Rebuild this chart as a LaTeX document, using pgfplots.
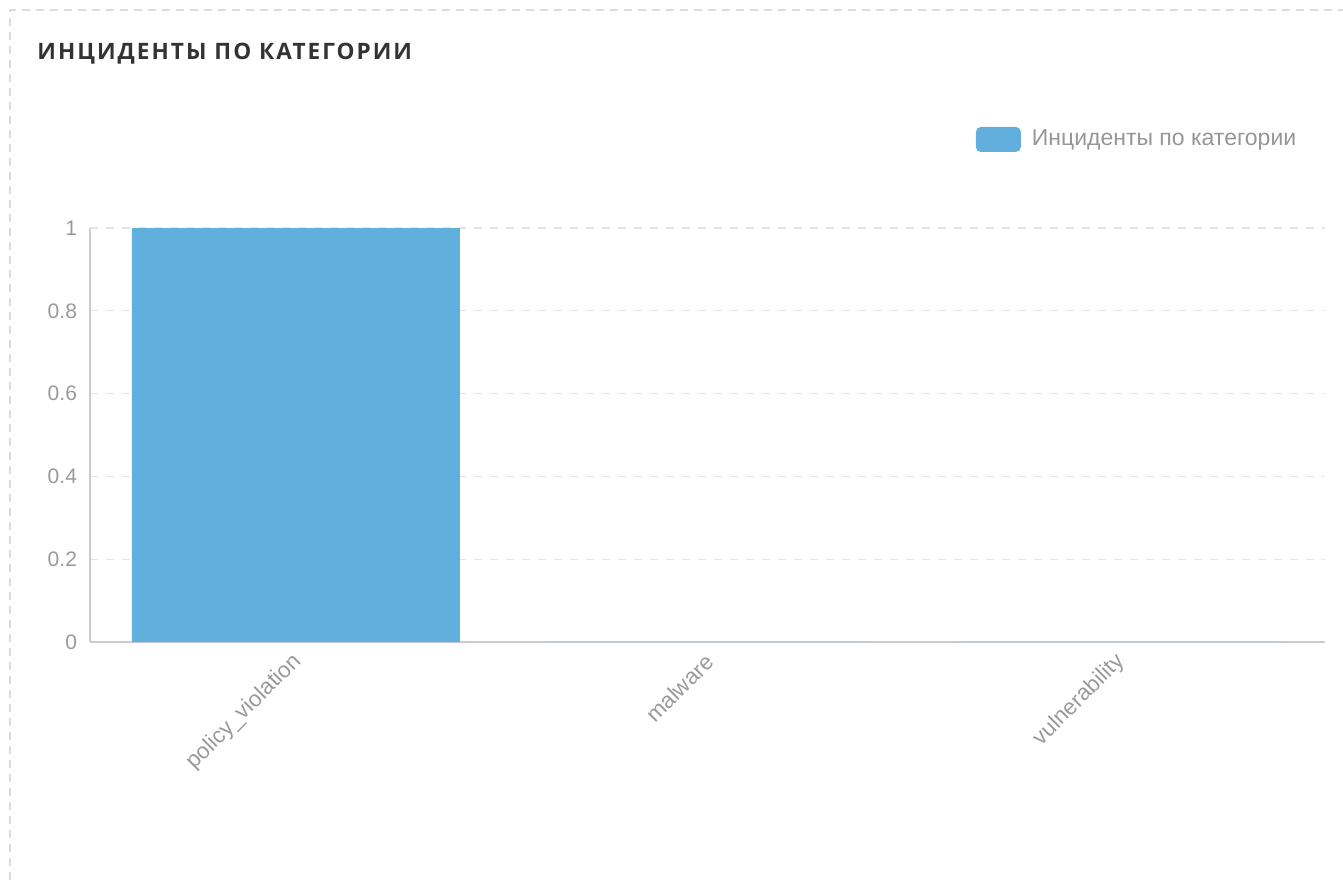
\documentclass[border=0pt]{standalone}
\usepackage{fontspec}
\setmainfont{Liberation Sans}
\newfontfamily\titlefont[LetterSpace=9]{Open Sans}
\usepackage{pgfplots}
\pgfplotsset{compat=1.18}
\definecolor{barblue}{RGB}{98,174,221}
\definecolor{ticktext}{RGB}{153,153,153}
\definecolor{legtext}{RGB}{150,150,150}
\definecolor{axisgray}{RGB}{204,204,204}
\definecolor{gridgray}{RGB}{228,228,228}
\definecolor{bordergray}{RGB}{220,220,220}
\definecolor{titlecol}{RGB}{51,51,51}
\begin{document}
\begin{tikzpicture}
\useasboundingbox (0,0) rectangle (671.5pt,440pt);
% card border (dashed)
\draw[bordergray, line width=0.6pt, dash pattern=on 4pt off 3pt] (5pt,0pt) -- (5pt,435pt) -- (671.5pt,435pt);
% title
\node[anchor=west, inner sep=0pt, text=titlecol] at (18.5pt,413pt) {\titlefont\bfseries\fontsize{11.3pt}{13pt}\selectfont ИНЦИДЕНТЫ ПО КАТЕГОРИИ};
\begin{axis}[
  at={(45pt,119pt)}, anchor=south west,
  scale only axis, width=617.5pt, height=207pt,
  xmin=-0.5, xmax=2.5, ymin=0, ymax=1,
  ybar, bar width=164pt, bar shift=0pt,
  axis x line=bottom, axis y line=left,
  axis line style={-, axisgray, line width=0.8pt},
  xtick=data, xticklabels={policy\_violation, malware, vulnerability},
  ytick={0,0.2,0.4,0.6,0.8,1},
  major tick length=0pt,
  /pgf/number format/assume math mode=true,
  /pgf/number format/fixed,
  ticklabel style={font=\fontsize{10.5pt}{12pt}\selectfont, text=ticktext},
  yticklabel style={xshift=-3pt},
  xticklabel style={font=\fontsize{11.2pt}{13pt}\selectfont, rotate=45, anchor=east, xshift=-1.5pt, yshift=-6.5pt},
  ymajorgrids, grid style={gridgray, dash pattern=on 4pt off 4pt, line width=0.6pt},
  legend style={at={(axis description cs:0.977,1.2138)}, anchor=east, draw=none, fill=none,
    font=\fontsize{11.5pt}{13pt}\selectfont, text=legtext, inner sep=0pt,
    nodes={inner sep=0pt}, /tikz/every odd column/.append style={column sep=5.5pt}},
  legend image code/.code={\fill[barblue, rounded corners=2.5pt] (0pt,-6.25pt) rectangle (22.5pt,6.25pt);},
]
\addplot[fill=barblue, draw=none] coordinates {(0,1) (1,0) (2,0)};
\addlegendentry{Инциденты по категории}
\end{axis}
\end{tikzpicture}
\end{document}
